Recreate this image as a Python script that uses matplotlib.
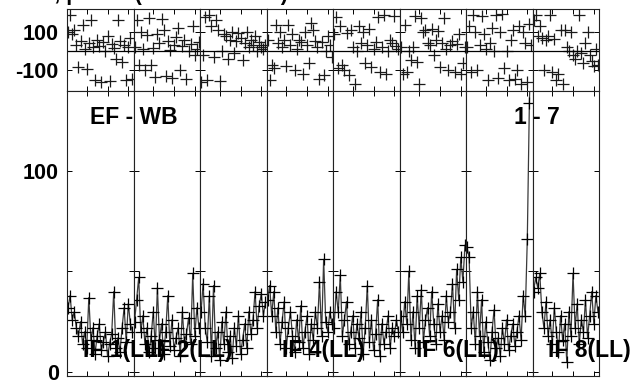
import matplotlib
matplotlib.use("Agg")
import matplotlib.pyplot as plt
import numpy as np

plt.rcParams['font.family'] = ['Liberation Sans', 'DejaVu Sans']
plt.rcParams['font.weight'] = 'bold'

# ---- data ----
channels = list(range(1, 33))
if_labels = ["IF 1(LL)", "IF 2(LL)", "", "IF 4(LL)", "", "IF 6(LL)", "", "IF 8(LL)"]
baseline_label = "EF - WB"
ant_label = "1 - 7"
title_text = "Amplitude, phase (VECTOR AVG)"

amp_if1 = [32, 38, 26, 30, 22, 18, 25, 14, 20, 12, 37, 16, 22, 9, 18, 24, 11, 15, 20, 8, 14, 19, 40, 12, 17, 10, 22, 32, 15, 34, 24, 20]
amp_if2 = [25, 36, 47, 20, 28, 14, 22, 10, 18, 30, 12, 42, 16, 24, 9, 20, 38, 13, 26, 11, 17, 22, 8, 30, 15, 19, 27, 14, 49, 18, 32, 22]
amp_if3 = [30, 44, 22, 15, 38, 8, 43, 12, 20, 6, 25, 14, 30, 10, 18, 7, 22, 13, 28, 9, 16, 24, 12, 30, 19, 26, 40, 22, 33, 39, 28, 35]
amp_if4 = [36, 43, 28, 40, 20, 32, 14, 25, 35, 12, 22, 30, 18, 10, 26, 15, 33, 12, 20, 28, 9, 24, 16, 30, 22, 45, 18, 56, 25, 20, 30, 24]
amp_if5 = [22, 40, 30, 48, 18, 26, 35, 14, 20, 28, 12, 24, 17, 30, 9, 22, 43, 15, 26, 11, 19, 36, 8, 24, 14, 20, 28, 12, 22, 18, 26, 20]
amp_if6 = [28, 20, 35, 24, 50, 16, 30, 12, 38, 22, 41, 15, 26, 32, 18, 40, 24, 14, 34, 20, 28, 16, 38, 25, 30, 44, 22, 51, 36, 57, 45, 63]
amp_if7 = [62, 57, 22, 30, 14, 40, 18, 36, 10, 25, 15, 6, 20, 31, 12, 17, 8, 22, 14, 26, 11, 18, 24, 13, 20, 28, 16, 38, 28, 66, 134, 175]
amp_if8 = [40, 47, 42, 49, 30, 22, 35, 18, 26, 14, 32, 20, 10, 28, 16, 24, 5, 30, 18, 49, 22, 34, 14, 26, 20, 36, 17, 28, 40, 24, 38, 30]

ph_if1 = [100, 187, 90, 110, 30, -85, 50, 135, 10, -95, 40, 160, 20, -150, 60, 25, -160, 45, 0, 80, -155, 35, 15, -40, 160, 50, -58, 30, -150, 20, 70, -145]
ph_if2 = [20, 160, -70, 100, 10, -100, 85, 170, -75, 15, -135, 90, 40, 165, 108, -130, 50, 5, -140, 30, 75, 120, -100, 25, 60, -145, 0, 35, 130, -20, 10, 45]
ph_if3 = [-160, -20, 175, -150, 185, 130, -30, 160, 110, -155, 0, 90, 80, -40, 60, 100, -10, 50, 95, 70, -48, 40, 100, 20, 60, 30, 80, 0, 45, 20, 10, 30]
ph_if4 = [60, -150, -70, -90, 135, 40, 100, 20, 55, -80, 135, 30, 90, -100, 10, 60, 45, -120, 100, 30, -60, 145, 110, 50, 20, -145, 45, -125, 0, 80, 30, -30]
ph_if5 = [90, 175, -90, 130, -75, -100, 95, -125, 110, 20, -170, 0, 130, 40, 100, -60, 30, 115, -85, 10, 45, 175, -110, 20, 185, -120, 0, 60, 40, 180, 25, 10]
ph_if6 = [20, -120, 135, -110, 0, -45, 20, 180, -55, -170, 170, 100, 110, 40, 30, 115, -20, 60, 105, -85, 40, 170, 10, -100, 30, 50, -110, 35, 90, -120, -60, 20]
ph_if7 = [20, 130, -110, 185, 100, -100, 30, 180, 90, 10, -150, 40, 120, 0, 185, -140, 100, 190, -90, 0, -150, 60, 110, -145, -100, 130, -170, 100, 40, -160, 140, 30]
ph_if8 = [160, 185, 80, 130, 70, -100, 60, 80, 185, -110, 65, -150, -120, 110, -170, 110, 20, 0, 100, -20, -40, 0, 185, -10, -60, 40, 100, -20, -50, -80, 10, -70]

amps = [amp_if1, amp_if2, amp_if3, amp_if4, amp_if5, amp_if6, amp_if7, amp_if8]
phases = [ph_if1, ph_if2, ph_if3, ph_if4, ph_if5, ph_if6, ph_if7, ph_if8]

chan_ticks = [10, 20, 30]
phase_ticks = [-100, 0, 100]
phase_ticklabels = ["-100", "", "100"]
amp_ticks = [0, 50, 100]
amp_ticklabels = ["0", "", "100"]

# ---- layout ----
W, H = 636, 380
fig = plt.figure(figsize=(W / 100, H / 100), dpi=100)

x0, pw = 67, 66.5
top_y0, top_y1 = 9.3, 90.5
bot_y0, bot_y1 = 90.5, 376

FS = 15.5
MS = 8.5
for i in range(8):
    left = (x0 + i * pw) / W
    axp = fig.add_axes([left, 1 - top_y1 / H, pw / W, (top_y1 - top_y0) / H])
    axa = fig.add_axes([left, 1 - bot_y1 / H, pw / W, (bot_y1 - bot_y0) / H])

    axp.plot(channels, phases[i], linestyle='none', marker='+', ms=MS, mew=0.9,
             color='#1a1a1a')
    axp.axhline(0, color='black', lw=0.9)
    axp.set_ylim(-205, 217)

    axa.plot(channels, amps[i], color='#3a3a3a', lw=0.9, marker='+', ms=MS,
             mew=0.9, mec='black')
    axa.set_ylim(-2, 140)

    for ax in (axp, axa):
        ax.set_xlim(0.5, 32.5)
        ax.set_xticks(chan_ticks)
        ax.set_xticklabels([])
        ax.tick_params(direction='in', length=3.8, width=0.7, top=True, right=True,
                       labelsize=FS, pad=6)
        for s in ax.spines.values():
            s.set_linewidth(0.8)
            s.set_color('#222222')

    axp.set_yticks(phase_ticks)
    axa.set_yticks(amp_ticks)
    if i == 0:
        axp.set_yticklabels(phase_ticklabels, fontweight='bold')
        axa.set_yticklabels(amp_ticklabels, fontweight='bold')
    else:
        axp.set_yticklabels([])
        axa.set_yticklabels([])

    if if_labels[i]:
        fig.text((x0 + i * pw + 16) / W, 1 - 350 / H, if_labels[i], fontsize=FS + 1,
                 fontweight='bold', ha='left', va='center', zorder=10)

fig.text(90 / W, 1 - 117 / H, baseline_label, fontsize=FS + 1, fontweight='bold',
         ha='left', va='center')
fig.text(514 / W, 1 - 117 / H, ant_label, fontsize=FS + 1, fontweight='bold',
         ha='left', va='center')
fig.text(288 / W, 1 - 0.3 / H, title_text, fontsize=FS, fontweight='bold',
         ha='right', va='baseline')

fig.savefig("out.png", dpi=100)
